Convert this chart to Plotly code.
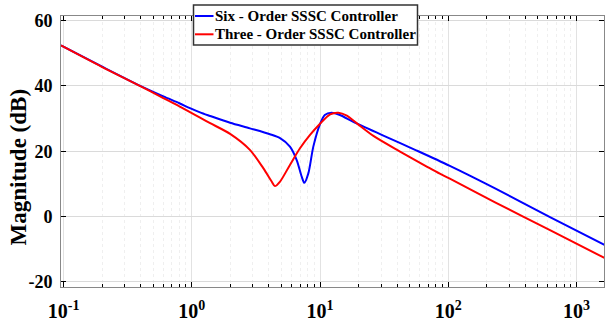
import plotly.graph_objects as go

# Frequency response magnitude of the two SSSC controllers
freq_six = [0.0955, 0.2, 0.4, 0.6, 0.8, 0.968, 1.16, 1.39, 1.99, 2.84, 4.07, 4.88,
            5.83, 6.58, 7.2, 7.55, 8.11, 8.87, 10.0, 10.9, 12.3, 14.3, 18.2, 31.2,
            56.8, 103, 232, 622, 1671]
mag_six = [52.4, 45.9, 39.95, 36.8, 34.7, 33.2, 31.9, 30.8, 28.7, 27.0, 25.2, 24.0,
           21.4, 17.3, 12.2, 10.3, 13.2, 21.4, 28.3, 31.1, 31.8, 31.1, 29.0, 24.8,
           20.2, 15.5, 8.6, -0.2, -8.8]

freq_three = [0.0955, 0.2, 0.4, 0.6, 0.8, 0.968, 1.16, 1.39, 1.99, 2.84, 3.61, 4.2,
              4.45, 4.88, 5.83, 6.98, 8.36, 9.88, 12.0, 13.9, 16.2, 19.3, 26.1, 42.1,
              68, 86, 103, 232, 622, 1671]
mag_three = [52.4, 45.8, 39.9, 36.3, 33.75, 31.95, 30.3, 28.6, 25.3, 20.4, 14.8, 10.7,
             9.3, 10.7, 15.8, 20.9, 25.0, 28.2, 31.3, 31.8, 30.9, 28.6, 24.7, 19.9,
             15.3, 13.1, 11.6, 4.3, -4.2, -12.8]

series_names = ["Six - Order SSSC Controller", "Three - Order SSSC Controller"]
series_colors = ["#0000ff", "#ff0000"]

x_tickvals = [0.1, 1, 10, 100, 1000]
x_ticktext = ["10<sup>-1</sup>", "10<sup>0</sup>", "10<sup>1</sup>", "10<sup>2</sup>", "10<sup>3</sup>"]
y_tickvals = [-20, 0, 20, 40, 60]
y_ticktext = ["-20", "0", "20", "40", "60"]
y_title = "Magnitude (dB)"

FONT = "Liberation Serif"
W, H = 605, 323
ML, MR, MT, MB = 61, 1, 16, 36
PW, PH = W - ML - MR, H - MT - MB


def px(x):
    return (x - ML) / PW


def py(y):
    return (H - MB - y) / PH


minor_vals = [m * 10 ** e for e in range(-1, 4) for m in range(2, 10)]

fig = go.Figure()
fig.add_trace(go.Scatter(x=freq_six, y=mag_six, mode="lines", name=series_names[0],
                         line=dict(color=series_colors[0], width=2, shape="spline", smoothing=0.8)))
fig.add_trace(go.Scatter(x=freq_three, y=mag_three, mode="lines", name=series_names[1],
                         line=dict(color=series_colors[1], width=2, shape="spline", smoothing=0.8)))

fig.update_layout(
    width=W, height=H,
    margin=dict(l=ML, r=MR, t=MT, b=MB),
    paper_bgcolor="white", plot_bgcolor="white",
    showlegend=False,
    font=dict(family=FONT, size=18, color="black", weight="bold"),
)

fig.update_xaxes(
    type="log", range=[-1.020, 3.215],
    tickmode="array", tickvals=x_tickvals, ticktext=x_ticktext,
    tickfont=dict(family=FONT, size=20, color="black", weight="bold"),
    ticks="inside", ticklen=5, tickcolor="black", tickwidth=1,
    showgrid=True, gridcolor="#e2e2e2", gridwidth=1,
    showline=True, linecolor="#888888", linewidth=1, mirror="allticks",
    ticklabelstandoff=6,
    minor=dict(tickmode="array", tickvals=minor_vals, ticks="inside", ticklen=3,
               tickcolor="black", showgrid=True, gridcolor="#efefef", griddash="dot"),
    zeroline=False,
)
fig.update_yaxes(
    range=[-21.62, 61.44],
    tickmode="array", tickvals=y_tickvals, ticktext=y_ticktext,
    tickfont=dict(family=FONT, size=18, color="black", weight="bold"),
    ticks="inside", ticklen=5, tickcolor="black", tickwidth=1,
    showgrid=True, gridcolor="#dadada", gridwidth=1,
    showline=True, linecolor="#888888", linewidth=1, mirror="allticks",
    ticklabelstandoff=4,
    zeroline=False,
)

# Y-axis title
fig.add_annotation(text=y_title, xref="paper", yref="paper", x=px(18), y=py(167.5),
                   textangle=-90, showarrow=False, xanchor="center", yanchor="middle",
                   font=dict(family=FONT, size=23, color="black", weight="bold"))

# Legend box drawn on top of the axes frame
fig.add_shape(type="rect", xref="paper", yref="paper",
              x0=px(193.5), x1=px(417.5), y0=py(45), y1=py(5),
              line=dict(color="#333333", width=1.5), fillcolor="white", layer="above")
for i, (name, color) in enumerate(zip(series_names, series_colors)):
    yrow = 16 + i * 18.3
    fig.add_shape(type="line", xref="paper", yref="paper",
                  x0=px(195), x1=px(213.5), y0=py(yrow), y1=py(yrow),
                  line=dict(color=color, width=2), layer="above")
    fig.add_annotation(text=name, xref="paper", yref="paper", x=px(213), y=py(yrow),
                       showarrow=False, xanchor="left", yanchor="middle",
                       font=dict(family=FONT, size=15, color="black", weight="bold"))

fig.write_html("out.html")
